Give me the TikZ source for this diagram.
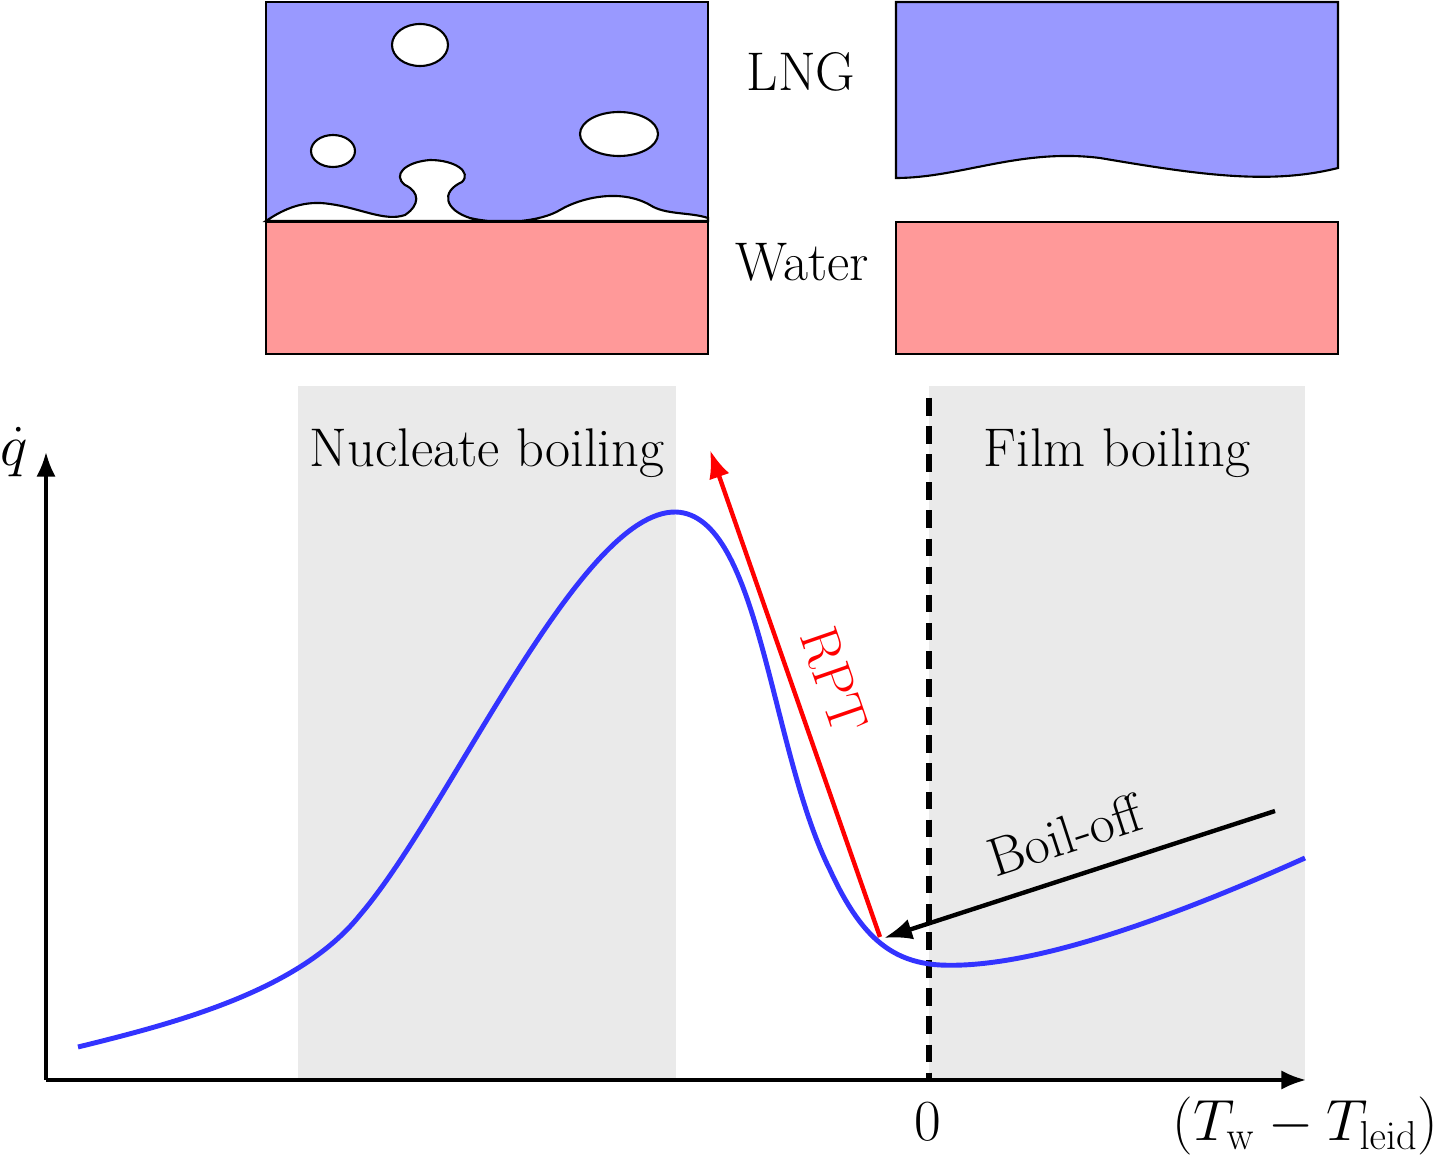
\documentclass[tikz,border=0pt]{standalone}
\usetikzlibrary{arrows.meta}
\definecolor{lng}{RGB}{153,153,255}
\definecolor{wat}{RGB}{255,153,153}
\definecolor{reg}{RGB}{234,234,234}
\begin{document}
\begin{tikzpicture}[x=0.02cm,y=-0.02cm,
  lab/.style={font=\fontsize{31}{36}\selectfont, inner sep=0pt},
  mlab/.style={font=\fontsize{24}{28}\selectfont, inner sep=0pt, scale=1.33, transform shape},
  box/.style={draw=black, line width=1.2pt},
  ax/.style={line width=2pt,-{Latex[length=14pt,width=11pt]}}]
\useasboundingbox (0,0) rectangle (1441,1155);
% top left
\fill[lng] (266,2) rectangle (708,222);
\draw[box,fill=white] (266,221) .. controls (285,208) and (305,200) .. (330,204)
  .. controls (360,208) and (385,222) .. (405,215)
  .. controls (420,205) and (420,192) .. (405,185)
  .. controls (392,175) and (405,162) .. (430,160)
  .. controls (455,160) and (472,172) .. (462,182)
  .. controls (440,192) and (445,210) .. (470,218)
  .. controls (500,225) and (540,222) .. (560,210)
  .. controls (580,198) and (620,188) .. (650,205)
  .. controls (665,215) and (690,212) .. (708,218) -- (708,221) -- cycle;
\draw[box] (266,2) rectangle (708,222);
\draw[box,fill=white] (420,45) ellipse [x radius=28, y radius=21];
\draw[box,fill=white] (333,151) ellipse [x radius=22, y radius=16];
\draw[box,fill=white] (619,134) ellipse [x radius=39, y radius=22];
\draw[box,fill=wat] (266,222) rectangle (708,354);
% top right
\draw[box,fill=lng] (896,2) -- (1338,2) -- (1338,168)
  .. controls (1270,185) and (1200,175) .. (1100,158)
  .. controls (1020,148) and (960,178) .. (896,178) -- cycle;
\draw[box,fill=wat] (896,222) rectangle (1338,354);
\node[lab] (lng) at (801,72) {LNG};
\node[lab] (water) at (802,262) {Water};
% regions
\fill[reg] (298,386) rectangle (676,1080);
\fill[reg] (929,386) rectangle (1305,1080);
\node[lab] (nb) at (487,453) {Nucleate boiling};
\node[lab] (fb) at (1117,453) {Film boiling};
% axes
\coordinate (o) at (46,1080);
\coordinate (xe) at (1306,1080);
\coordinate (ye) at (46,452);
\draw[ax] (o) -- (xe);
\draw[ax] (o) -- (ye);
\node[mlab] (q) at (14,452) {$\dot q$};
\node[mlab] (zero) at (928,1122) {$0$};
\node[mlab,anchor=east] (xl) at (1439,1126) {$(T_{\mathrm{w}}-T_{\mathrm{leid}})$};
\coordinate (dt) at (929,398);
\coordinate (db) at (929,1080);
\draw[line width=3.5pt,dash pattern=on 10pt off 6pt] (dt) -- (db);
% curve
\draw[blue!80!white,line width=2.8pt] (78,1047)
  .. controls (180,1022) and (300,990) .. (360,915)
  .. controls (450,810) and (580,510) .. (676,512)
  .. controls (760,515) and (770,750) .. (830,870)
  .. controls (860,935) and (890,962) .. (940,965)
  .. controls (1040,970) and (1200,905) .. (1305,858);
% arrows
\coordinate (rs) at (880,937);
\coordinate (re) at (710,450);
\draw[red,line width=2.5pt,-{Latex[length=16pt,width=12pt]}] (rs) -- (re);
\node[lab,red,rotate=-71] (rpt) at (834,680) {RPT};
\coordinate (bs) at (1275,811);
\coordinate (be) at (884,938);
\draw[black,line width=2.5pt,-{Latex[length=16pt,width=12pt]}] (bs) -- (be);
\node[lab,rotate=18] (bo) at (1065,835) {Boil-off};
\end{tikzpicture}
\end{document}
